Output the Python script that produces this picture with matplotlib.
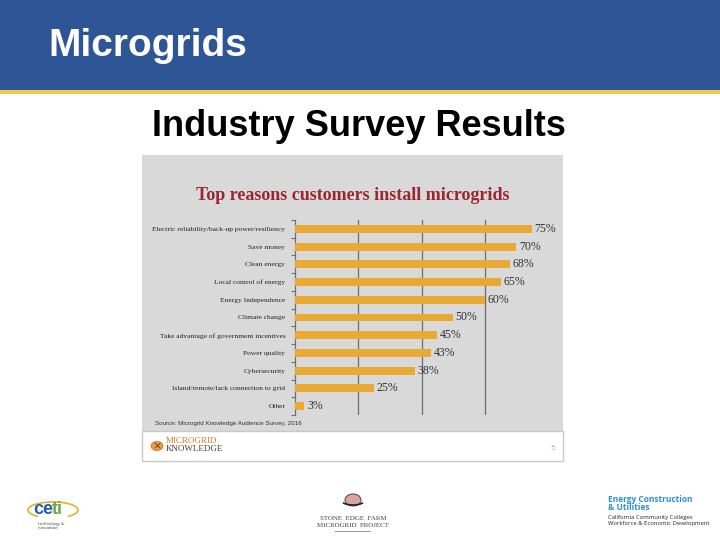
import matplotlib
matplotlib.use("Agg")
import matplotlib.pyplot as plt
from matplotlib.patches import Rectangle, Circle, Arc

reasons = [
    "Electric reliability/back-up power/resiliency",
    "Save money",
    "Clean energy",
    "Local control of energy",
    "Energy Independence",
    "Climate change",
    "Take advantage of government incentives",
    "Power quality",
    "Cybersecurity",
    "Island/remote/lack connection to grid",
    "Other",
]
pct = [75, 70, 68, 65, 60, 50, 45, 43, 38, 25, 3]
grid_ticks = [20, 40, 60]

W, H = 720, 540
fig = plt.figure(figsize=(7.2, 5.4), dpi=100)
fig.patch.set_facecolor("white")


def px_rect(x0, y0, x1, y1, **kw):
    # rectangle given in pixel coords, y measured from the top
    r = Rectangle((x0 / W, 1 - y1 / H), (x1 - x0) / W, (y1 - y0) / H,
                  transform=fig.transFigure, zorder=-1, **kw)
    fig.patches.append(r)
    return r


def px_text(x, y, s, **kw):
    return fig.text(x / W, 1 - y / H, s, **kw)


# slide header
px_rect(0, 0, 720, 90, facecolor="#2e5596", edgecolor="none")
px_rect(0, 90, 720, 94, facecolor="#f0c850", edgecolor="none")
px_text(48, 46, "Microgrids", color="white", fontsize=28, fontweight="bold",
        family="Liberation Sans", va="center", ha="left")
px_text(359, 126, "Industry Survey Results", color="black", fontsize=26,
        fontweight="bold", family="Liberation Sans", va="center", ha="center")

# pasted chart image background
px_rect(142, 155, 563, 431, facecolor="#d9d9d9", edgecolor="none")
px_rect(142, 431, 563, 461, facecolor="white", edgecolor="#c8c8c8", linewidth=1)

px_text(353, 195, "Top reasons customers install microgrids", color="#9b2630",
        fontsize=13, fontweight="bold", family="Liberation Serif",
        va="center", ha="center")

ax = fig.add_axes([295 / W, 1 - 415 / H, (548 - 295) / W, (415 - 220) / H])
ax.set_zorder(5)
ax.set_facecolor("none")
ypos = list(range(len(reasons)))
ax.barh(ypos, pct, height=0.45, color="#e9a935", zorder=3)
ax.set_xlim(0, 80)
ax.set_ylim(len(reasons) - 0.5, -0.5)
for v in grid_ticks:
    ax.axvline(v, color="#6e6e6e", linewidth=0.9, zorder=1)
for s in ["top", "right", "bottom"]:
    ax.spines[s].set_visible(False)
ax.spines["left"].set_color("#6e6e6e")
ax.spines["left"].set_linewidth(0.9)
ax.set_xticks([])
ax.set_yticks(ypos)
ax.set_yticklabels(reasons, fontsize=5.4, family="Liberation Serif", color="#222222")
ax.tick_params(axis="y", which="major", length=0, pad=7)
ax.set_yticks([i - 0.5 for i in range(len(reasons) + 1)], minor=True)
ax.tick_params(axis="y", which="minor", length=3, color="#6e6e6e", width=0.8)
for y, v in zip(ypos, pct):
    ax.text(v + 0.8, y, f"{v}%", fontsize=8.5, family="Liberation Serif",
            color="#333333", va="center", ha="left")

px_text(155, 423, "Source: Microgrid Knowledge Audience Survey, 2016",
        fontsize=4.5, family="Liberation Sans", color="#333333", va="center")

# Microgrid Knowledge logo
fig.patches.append(Circle((157 / W, 1 - 446 / H), 6 / W, transform=fig.transFigure,
                          facecolor="#e8a04a", edgecolor="#c77a2a", linewidth=0.6))
px_text(157, 446, "×", fontsize=8, color="#7a3b10", ha="center", va="center")
px_text(166, 441, "MICROGRID", fontsize=6.5, family="Liberation Serif",
        color="#d07a2c", va="center")
px_text(166, 449, "KNOWLEDGE", fontsize=6.5, family="Liberation Serif",
        color="#5a3a2a", va="center")
px_text(553, 448, "5", fontsize=5, color="#aaaaaa", va="center", ha="center")

# footer logos
fig.patches.append(Arc((53 / W, 1 - 510 / H), 50 / W, 16 / H, theta1=-30, theta2=210,
                       transform=fig.transFigure, color="#e0b030", linewidth=1.2))
px_text(33, 510, "ce", fontsize=13, fontweight="bold", family="Liberation Sans",
        color="#1f5fae", va="center")
px_text(52, 510, "ti", fontsize=13, fontweight="bold", family="Liberation Sans",
        color="#6aa84f", va="center")
px_text(38, 526, "technology &\ninnovation", fontsize=2.8, color="#444444",
        va="center", linespacing=1.2)

fig.patches.append(Circle((353 / W, 1 - 500 / H), 8 / W, transform=fig.transFigure,
                          facecolor="#d9a59a", edgecolor="#555555", linewidth=0.8))
fig.patches.append(Arc((353 / W, 1 - 500 / H), 24 / W, 10 / H, theta1=200, theta2=340,
                       transform=fig.transFigure, color="#222222", linewidth=1.2))
px_text(353, 522, "STONE  EDGE  FARM\nMICROGRID  PROJECT", fontsize=5,
        family="Liberation Serif", color="#444444", ha="center", va="center",
        linespacing=1.3)
px_rect(335, 531, 371, 532, facecolor="#999999", edgecolor="none")

px_text(608, 499, "Energy Construction", fontsize=6, fontweight="bold",
        family="Open Sans", color="#2a8fd8", va="center")
px_text(608, 508, "& Utilities", fontsize=6, fontweight="bold",
        family="Open Sans", color="#2a8fd8", va="center")
px_text(608, 517, "California Community Colleges", fontsize=4.2,
        family="Open Sans", color="#222222", va="center")
px_text(608, 524, "Workforce & Economic Development", fontsize=4.2,
        family="Open Sans", color="#222222", va="center")

fig.savefig("out.png", dpi=100)
